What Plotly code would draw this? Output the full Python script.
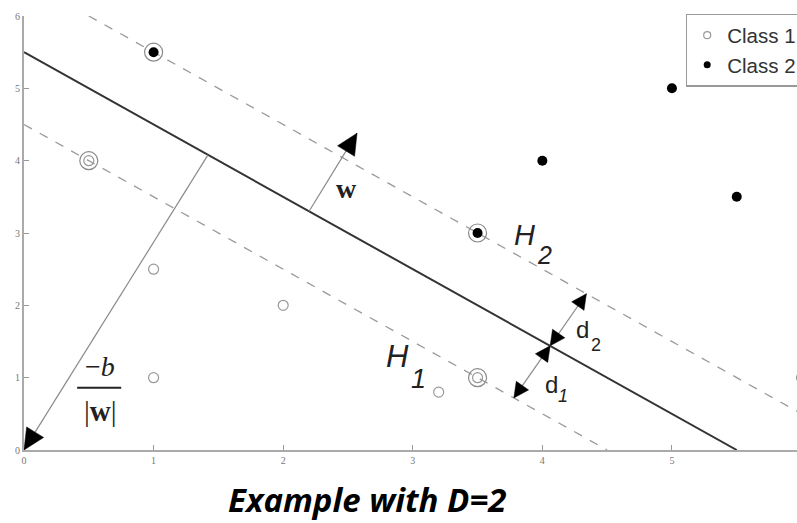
import math
import plotly.graph_objects as go

# ---------------- data ----------------
class1_x = [0.5, 1.0, 1.0, 2.0, 3.2, 3.5, 6.0]
class1_y = [4.0, 2.5, 1.0, 2.0, 0.8, 1.0, 1.0]
class2_x = [1.0, 3.5, 4.0, 5.0, 5.5]
class2_y = [5.5, 3.0, 4.0, 5.0, 3.5]
support_x = [0.5, 3.5, 1.0, 3.5]
support_y = [4.0, 1.0, 5.5, 3.0]

# hyperplanes  x + y = c
plane_c = 5.5      # separating hyperplane
h1_c = 4.5         # H1
h2_c = 6.5         # H2

tick_vals = [0, 1, 2, 3, 4, 5, 6]

# arrows (start -> end)
offset_arrow_x = [1.42, 0.0]
offset_arrow_y = [4.08, 0.0]
w_arrow_x = [2.2, 2.57]
w_arrow_y = [3.3, 4.38]
d2_arrow_x = [4.06, 4.34]
d2_arrow_y = [1.44, 2.16]
d1_arrow_x = [4.06, 3.78]
d1_arrow_y = [1.44, 0.72]

# ---------------- layout constants ----------------
W, H = 797, 523
ML, MR, MT, MB = 24, 0, 16, 73
X_MAX, Y_MAX = 5.965, 6.0
PX_X = (W - ML - MR) / X_MAX
PX_Y = (H - MT - MB) / Y_MAX

GREY = "#9a9a9a"


def plane_points(c):
    xs = [max(0.0, c - Y_MAX), c]
    return xs, [c - x for x in xs]


fig = go.Figure()

# dashed margins
for c in (h1_c, h2_c):
    px, py = plane_points(c)
    fig.add_trace(go.Scatter(x=px, y=py, mode="lines", showlegend=False,
                             line=dict(color=GREY, width=1.3, dash="dash"),
                             hoverinfo="skip"))
# solid hyperplane
px, py = plane_points(plane_c)
fig.add_trace(go.Scatter(x=px, y=py, mode="lines", showlegend=False,
                         line=dict(color="#333333", width=2),
                         hoverinfo="skip"))

# arrow shafts
for ax_, ay_ in ((offset_arrow_x, offset_arrow_y), (w_arrow_x, w_arrow_y),
                 (d2_arrow_x, d2_arrow_y), (d1_arrow_x, d1_arrow_y)):
    fig.add_trace(go.Scatter(x=ax_, y=ay_, mode="lines", showlegend=False,
                             line=dict(color="#8a8a8a", width=1.2),
                             hoverinfo="skip"))

# support vector rings
fig.add_trace(go.Scatter(x=support_x, y=support_y, mode="markers", showlegend=False,
                         marker=dict(symbol="circle-open", size=18, color="#8a8a8a",
                                     line=dict(width=1.2)),
                         hoverinfo="skip"))

# classes
fig.add_trace(go.Scatter(x=class1_x, y=class1_y, mode="markers", showlegend=False,
                         marker=dict(symbol="circle-open", size=10, color="#999999",
                                     line=dict(width=1.2))))
fig.add_trace(go.Scatter(x=class2_x, y=class2_y, mode="markers", showlegend=False,
                         marker=dict(symbol="circle", size=10, color="black")))

# legend entries
fig.add_trace(go.Scatter(x=[None], y=[None], mode="markers", name="Class 1",
                         marker=dict(symbol="circle-open", size=7, color="#999999",
                                     line=dict(width=1.2))))
fig.add_trace(go.Scatter(x=[None], y=[None], mode="markers", name="Class 2",
                         marker=dict(symbol="circle", size=7, color="black")))


def head(xs, ys, at_end=True, length=20.0, half_w=10.0):
    """Filled triangular arrow head, tip on the arrow end point."""
    if at_end:
        xt, yt, xp, yp = xs[-1], ys[-1], xs[-2], ys[-2]
    else:
        xt, yt, xp, yp = xs[0], ys[0], xs[1], ys[1]
    dxp = (xt - xp) * PX_X
    dyp = (yt - yp) * PX_Y
    n = math.hypot(dxp, dyp)
    ux, uy = dxp / n, dyp / n          # unit direction (pixel space, y up)
    nx, ny = -uy, ux
    bx, by = -ux * length, -uy * length
    pts = [(0.0, 0.0), (bx + nx * half_w, by + ny * half_w), (bx - nx * half_w, by - ny * half_w)]
    path = "M " + " L ".join(f"{xt + px_ / PX_X:.5f},{yt + py_ / PX_Y:.5f}" for px_, py_ in pts) + " Z"
    fig.add_shape(type="path", path=path, xref="x", yref="y",
                  fillcolor="black", line=dict(color="black", width=0.5), layer="above")


head(offset_arrow_x, offset_arrow_y, True, 21, 10)
head(w_arrow_x, w_arrow_y, True, 21, 10)
head(d2_arrow_x, d2_arrow_y, True, 15, 7.5)
head(d2_arrow_x, d2_arrow_y, False, 15, 7.5)
head(d1_arrow_x, d1_arrow_y, True, 15, 7.5)
head(d1_arrow_x, d1_arrow_y, False, 15, 7.5)

SANS = "Liberation Sans, Arial, sans-serif"
SERIF = "Liberation Serif, Times New Roman, serif"

labels = [
    ("<b>w</b>", 2.49, 3.62, SERIF, 28),
    ("<i>H</i>", 3.865, 2.97, SANS, 29),
    ("<i>2</i>", 4.02, 2.70, SANS, 25),
    ("<i>H</i>", 2.88, 1.29, SANS, 31),
    ("<i>1</i>", 3.045, 0.98, SANS, 27),
    ("d", 4.31, 1.66, SANS, 24),
    ("2", 4.414, 1.45, SANS, 18),
    ("d", 4.07, 0.90, SANS, 24),
    ("<i>1</i>", 4.158, 0.74, SANS, 18),
    ("−<i>b</i>", 0.59, 1.16, SERIF, 28),
    ("|<b>w</b>|", 0.59, 0.54, SERIF, 29),
]
for txt, lx, ly, fam, fs in labels:
    fig.add_annotation(x=lx, y=ly, xref="x", yref="y", text=txt, showarrow=False,
                       xanchor="center", yanchor="middle",
                       font=dict(family=fam, size=fs, color="#222222"))

# fraction bar
fig.add_shape(type="line", xref="x", yref="y", x0=0.41, x1=0.75, y0=0.86, y1=0.86,
              line=dict(color="#222222", width=2))

# bottom caption (box bottom on the figure's lower edge)
fig.add_annotation(x=0.445, y=-MB / (H - MT - MB), xref="paper", yref="paper",
                   text="<b><i>Example with D=2</i></b>", showarrow=False,
                   xanchor="center", yanchor="bottom", borderpad=0,
                   font=dict(family="Open Sans, sans-serif", size=33, color="black"))

axis_common = dict(showgrid=False, zeroline=False, showline=True, linecolor="#aaaaaa",
                   linewidth=2, ticks="inside", ticklen=5, tickcolor="#999999",
                   tickvals=tick_vals,
                   tickfont=dict(family=SERIF, size=10, color="#777777"))

fig.update_layout(
    width=W, height=H, autosize=False,
    margin=dict(l=ML, r=MR, t=MT, b=MB, pad=0, autoexpand=False),
    paper_bgcolor="white", plot_bgcolor="white",
    xaxis=dict(range=[0, X_MAX], **axis_common),
    yaxis=dict(range=[0, Y_MAX], **axis_common),
    legend=dict(x=0.856, y=1.005, xanchor="left", yanchor="top",
                bordercolor="#999999", borderwidth=1.5, bgcolor="white",
                font=dict(family=SANS, size=20.5, color="#333333")),
    showlegend=True,
)

fig.write_html("out.html")
